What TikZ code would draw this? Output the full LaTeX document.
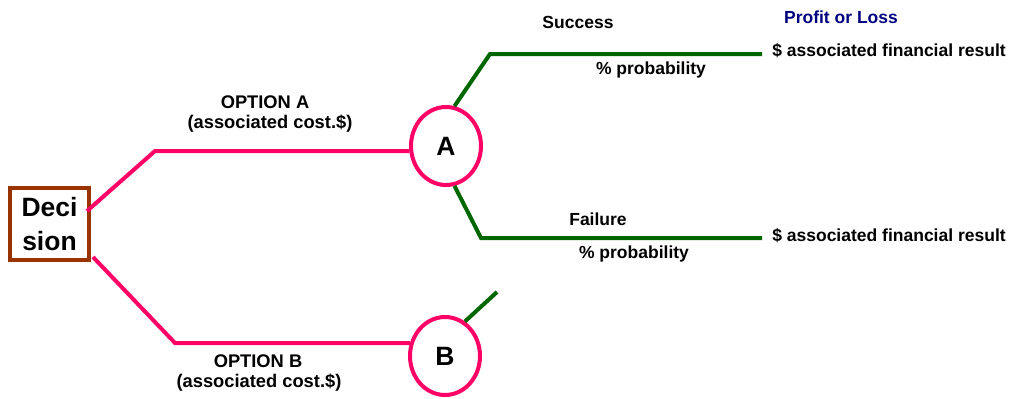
\documentclass[tikz,border=0pt]{standalone}
\usepackage{fontspec}
\setmainfont{Liberation Sans}
\usetikzlibrary{shapes.geometric}
\definecolor{pinkl}{HTML}{FF0066}
\definecolor{greenl}{HTML}{006600}
\definecolor{brownb}{HTML}{993300}
\definecolor{navyt}{HTML}{000080}
\begin{document}
\begin{tikzpicture}[x=1pt,y=-1pt,
  lbl/.style={font=\bfseries\fontsize{17.5}{20}\selectfont, inner sep=0pt, align=center},
  optl/.style={font=\bfseries\fontsize{18.3}{20}\selectfont, inner sep=0pt, align=center},
  pline/.style={draw=pinkl, line width=4pt},
  gline/.style={draw=greenl, line width=4pt},
  chance/.style={ellipse, draw=pinkl, line width=4pt, minimum width=70pt, minimum height=78pt, inner sep=0pt, font=\bfseries\fontsize{26.5}{30}\selectfont},
]
\useasboundingbox (0,0) rectangle (1015,399);
\node[draw=brownb, line width=4pt, fill=white, minimum width=79pt, minimum height=72pt, inner sep=0pt, align=center, font=\bfseries\fontsize{26.5}{34}\selectfont] (dec) at (49.5,224) {Deci\\sion};
\node[chance] (A) at (446,146) {A};
\node[chance] (B) at (445,356) {B};
\coordinate (d1) at (87,211);
\coordinate (d2) at (93,257);
\coordinate (a1) at (155,151);
\coordinate (b1) at (175,343);
\coordinate (s1) at (490,54);
\coordinate (s2) at (762,54);
\coordinate (f1) at (481,238);
\coordinate (f2) at (762,238);
\coordinate (bg) at (497,292);
\draw[pline] (d1) -- (a1) -- (A.188);
\draw[pline] (d2) -- (b1) -- (B.160);
\draw[gline] (A.78) -- (s1) -- (s2);
\draw[gline] (A.282) -- (f1) -- (f2);
\draw[gline] (B.60) -- (bg);
\node[lbl] (succ) at (578,22.5) {Success};
\node[lbl, text=navyt] (pl) at (841,17.5) {Profit or Loss};
\node[lbl] (r1) at (889,51) {\$ associated financial result};
\node[lbl] (r2) at (889,236) {\$ associated financial result};
\node[lbl] (p1) at (651,69.5) {\% probability};
\node[lbl] (fail) at (598,219) {Failure};
\node[lbl] (p2) at (634,254) {\% probability};
\node[optl] (oa1) at (265,102.5) {OPTION A};
\node[optl] (oa2) at (270,123.5) {(associated cost.\$)};
\node[optl] (ob1) at (258,361.5) {OPTION B};
\node[optl] (ob2) at (259,382.5) {(associated cost.\$)};
\end{tikzpicture}
\end{document}
